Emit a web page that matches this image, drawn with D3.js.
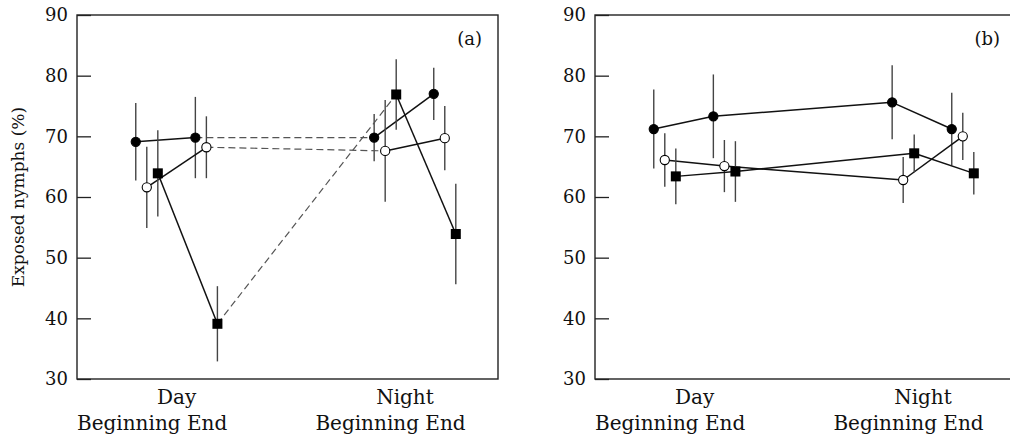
<!DOCTYPE html>
<html>
<head>
<meta charset="utf-8">
<script src="https://cdn.jsdelivr.net/npm/d3@7"></script>
<style>
  body { margin: 0; background: #fff; }
  text { font-family: "DejaVu Serif", serif; fill: #111; }
</style>
</head>
<body>
<script>

// categories along the x axis
var phases = ["Day Beginning", "Day End", "Night Beginning", "Night End"];
var periods = ["Day", "Night"];
var yTicks = [30, 40, 50, 60, 70, 80, 90];
var panelNames = ["(a)", "(b)"];

// panel (a): means and error bars, one array per marker type
var aFilledMean = [69.1, 69.8, 69.8, 77.0];
var aFilledErr  = [6.4, 6.7, 3.9, 4.3];
var aOpenMean   = [61.6, 68.2, 67.6, 69.7];
var aOpenErr    = [6.7, 5.1, 8.4, 5.3];
var aSquareMean = [63.9, 39.1, 76.9, 53.9];
var aSquareErr  = [7.1, 6.2, 5.8, 8.3];

// panel (b)
var bFilledMean = [71.2, 73.3, 75.6, 71.2];
var bFilledErr  = [6.5, 6.9, 6.1, 6.0];
var bOpenMean   = [66.1, 65.1, 62.8, 70.0];
var bOpenErr    = [4.4, 4.3, 3.8, 3.9];
var bSquareMean = [63.4, 64.2, 67.2, 63.9];
var bSquareErr  = [4.6, 5.0, 3.1, 3.5];

function drawChart(){

	var w = 1010;
	var h = 437;
	var panel_w = 421;
	var panel_h = 364;
	var panel_top = 15;
	var panel_lefts = [77, 595];
	var tick_len = 14;

	var svg = d3.select("body")
		.append("svg")
		.attr("width", w)
		.attr("height", h);

	// slot of each phase on the x axis (the gap separates day and night)
	var slot = [0, 1, 4, 5];
	var offsets = [-0.185, 0, 0.185];

	var x = d3.scaleLinear().domain([-1.171, 5.893]).range([0, panel_w]);
	var y = d3.scaleLinear().domain([30, 90]).range([panel_h, 0]);

	var panels = [
		{ name: panelNames[0], dashedBridge: true, series: [
			{ mean: aFilledMean, err: aFilledErr, marker: "filled" },
			{ mean: aOpenMean, err: aOpenErr, marker: "open" },
			{ mean: aSquareMean, err: aSquareErr, marker: "square" } ] },
		{ name: panelNames[1], dashedBridge: false, series: [
			{ mean: bFilledMean, err: bFilledErr, marker: "filled" },
			{ mean: bOpenMean, err: bOpenErr, marker: "open" },
			{ mean: bSquareMean, err: bSquareErr, marker: "square" } ] }
	];

	panels.forEach(function(p, pi){

		var g = svg.append("g")
			.attr("transform", "translate(" + panel_lefts[pi] + "," + panel_top + ")");

		// FRAME
		g.append("rect")
			.attr("x", 0).attr("y", 0)
			.attr("width", panel_w).attr("height", panel_h)
			.attr("fill", "none")
			.attr("stroke", "#222")
			.attr("stroke-width", 1.4);

		// Y AXIS (ticks inside)
		var yAxis = d3.axisLeft(y)
			.tickValues(yTicks)
			.tickSize(-tick_len)
			.tickPadding(9);

		var ya = g.append("g").call(yAxis);
		ya.select(".domain").remove();
		ya.selectAll("line").attr("stroke", "#222").attr("stroke-width", 1.3);
		ya.selectAll("text")
			.attr("font-family", "DejaVu Serif")
			.attr("font-size", "18px")
			.attr("fill", "#111");

		// PANEL LABEL
		g.append("text")
			.attr("x", panel_w - 16)
			.attr("y", 30)
			.attr("text-anchor", "end")
			.attr("font-size", "18px")
			.text(p.name);

		// X CATEGORY LABELS
		periods.forEach(function(per, k){
			var s0 = slot[k * 2];
			g.append("text")
				.attr("x", x(s0 + 0.5) - (k == 1 ? 10 : 0))
				.attr("y", panel_h + 25)
				.attr("text-anchor", "middle")
				.attr("font-size", "20px")
				.text(per);
			g.append("text")
				.attr("x", x(s0) - x(0))
				.attr("y", panel_h + 51)
				.attr("text-anchor", "start")
				.attr("font-size", "20px")
				.text(phases[k * 2].split(" ")[1] + " " + phases[k * 2 + 1].split(" ")[1]);
		});

		p.series.forEach(function(s, si){

			var px = function(i){ return x(slot[i] + offsets[si]); };

			// ERROR BARS
			g.selectAll(".err" + si)
				.data(s.mean)
				.enter()
				.append("line")
				.attr("x1", function(d, i){ return px(i); })
				.attr("x2", function(d, i){ return px(i); })
				.attr("y1", function(d, i){ return y(d + s.err[i]); })
				.attr("y2", function(d, i){ return y(d - s.err[i]); })
				.attr("stroke", "#444")
				.attr("stroke-width", 1.4);

			// CONNECTING LINES
			for (var i = 0; i < s.mean.length - 1; i++){
				var bridge = (i == 1);
				var seg = g.append("line")
					.attr("x1", px(i)).attr("y1", y(s.mean[i]))
					.attr("x2", px(i + 1)).attr("y2", y(s.mean[i + 1]));
				if (bridge && p.dashedBridge){
					seg.attr("stroke", "#555")
						.attr("stroke-width", 1.2)
						.attr("stroke-dasharray", "7,4");
				} else {
					seg.attr("stroke", "#111")
						.attr("stroke-width", 1.5);
				}
			}
		});

		// MARKERS on top
		p.series.forEach(function(s, si){
			var px = function(i){ return x(slot[i] + offsets[si]); };
			if (s.marker == "square"){
				g.selectAll(".sq" + si)
					.data(s.mean)
					.enter()
					.append("rect")
					.attr("x", function(d, i){ return px(i) - 5; })
					.attr("y", function(d){ return y(d) - 5; })
					.attr("width", 10)
					.attr("height", 10)
					.attr("fill", "#000");
			} else {
				g.selectAll(".pt" + si)
					.data(s.mean)
					.enter()
					.append("circle")
					.attr("cx", function(d, i){ return px(i); })
					.attr("cy", function(d){ return y(d); })
					.attr("r", 4.6)
					.attr("fill", s.marker == "filled" ? "#000" : "#fff")
					.attr("stroke", "#000")
					.attr("stroke-width", 1.1);
			}
		});
	});

	// Y AXIS TITLE
	svg.append("text")
		.attr("transform", "translate(24," + (panel_top + panel_h / 2) + ") rotate(-90)")
		.attr("text-anchor", "middle")
		.attr("font-size", "17px")
		.text("Exposed nymphs (%)");
}

drawChart();
</script>
</body>
</html>
